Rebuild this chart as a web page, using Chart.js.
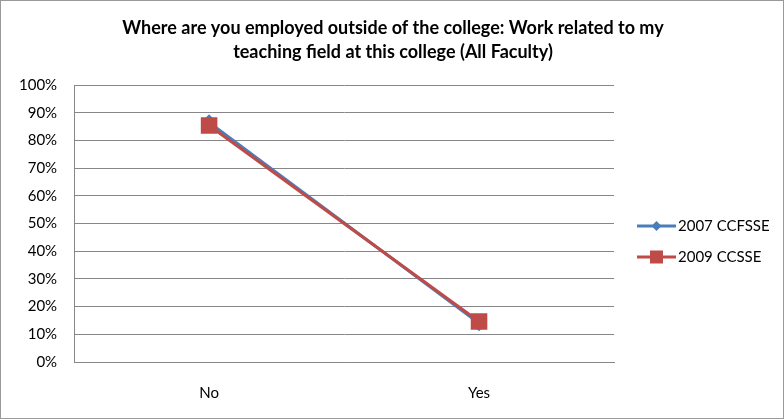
<!DOCTYPE html>
<html>
<head>
<meta charset="utf-8">
<script src="https://cdn.jsdelivr.net/npm/chart.js@4/dist/chart.umd.min.js"></script>
<style>
  body { margin: 0; background: #fff; }
  #wrap { width: 784px; height: 419px; box-sizing: border-box; border: 1px solid #9a9a9a; }
  canvas { display: block; }
</style>
</head>
<body>
<div id="wrap"><canvas id="chart" width="782" height="417"></canvas></div>
<script>
// values
const categories = ['No', 'Yes'];
const seriesNames = ['2007 CCFSSE', '2009 CCSSE'];
const ccfsse2007 = [86.5, 14];
const ccsse2009 = [85.4, 14.6];
const yTicks = [0, 10, 20, 30, 40, 50, 60, 70, 80, 90, 100];
const titleLines = ['Where are you employed outside of the college: Work related to my', 'teaching field at this college (All Faculty)'];

const blue = '#4A7EBB';
const red = '#BE4B48';
const grid = '#878787';
const font = "Lato, 'Open Sans', sans-serif";

// title centred on the whole chart, plus an Excel style legend on the right
const decorations = {
  id: 'decorations',
  afterDraw(chart) {
    const ctx = chart.ctx;
    ctx.save();
    ctx.fillStyle = '#000';
    ctx.textAlign = 'center';
    ctx.textBaseline = 'middle';
    ctx.font = 'bold 18px ' + font;
    titleLines.forEach((t, i) => ctx.fillText(t, chart.width / 2 + 1, 27 + i * 24));
    ctx.restore();

    const x0 = 636, y0 = 225, gap = 31;
    chart.data.datasets.forEach((ds, i) => {
      const y = y0 + i * gap;
      ctx.save();
      ctx.strokeStyle = ds.borderColor;
      ctx.lineWidth = 3;
      ctx.beginPath();
      ctx.moveTo(x0, y);
      ctx.lineTo(x0 + 39, y);
      ctx.stroke();
      ctx.fillStyle = ds.backgroundColor;
      if (ds.pointStyle === 'rectRot') {
        ctx.beginPath();
        ctx.moveTo(x0 + 19.5, y - 5);
        ctx.lineTo(x0 + 24.5, y);
        ctx.lineTo(x0 + 19.5, y + 5);
        ctx.lineTo(x0 + 14.5, y);
        ctx.closePath();
        ctx.fill();
      } else {
        ctx.fillRect(x0 + 13, y - 6.5, 13, 13);
      }
      ctx.fillStyle = '#000';
      ctx.font = '15px ' + font;
      ctx.textBaseline = 'middle';
      ctx.fillText(ds.label, x0 + 41, y);
      ctx.restore();
    });
  }
};

new Chart(document.getElementById('chart'), {
  type: 'line',
  data: {
    labels: categories,
    datasets: [
      {
        label: seriesNames[0],
        data: ccfsse2007,
        borderColor: blue,
        backgroundColor: blue,
        borderWidth: 3,
        pointStyle: 'rectRot',
        pointRadius: 6,
        pointHoverRadius: 6,
        order: 2
      },
      {
        label: seriesNames[1],
        data: ccsse2009,
        borderColor: red,
        backgroundColor: red,
        borderWidth: 3,
        pointStyle: 'rect',
        pointRadius: 9.6,
        pointHoverRadius: 9.6,
        order: 1
      }
    ]
  },
  options: {
    responsive: false,
    animation: false,
    layout: { padding: { left: 1, right: 169, top: 84, bottom: 12 } },
    plugins: {
      legend: { display: false },
      tooltip: { enabled: false },
      title: { display: false }
    },
    scales: {
      x: {
        offset: true,
        afterFit(scale) { scale.height = 44; },
        grid: { display: false, drawTicks: false },
        border: { color: grid, width: 1 },
        ticks: { color: '#000', font: { family: font, size: 15 }, padding: 22 }
      },
      y: {
        min: 0,
        max: 100,
        afterBuildTicks(axis) { axis.ticks = yTicks.map(v => ({ value: v })); },
        grid: { color: grid, lineWidth: 1, drawTicks: false },
        border: { color: grid, width: 1 },
        ticks: {
          color: '#000',
          font: { family: font, size: 15 },
          padding: 17,
          callback: v => v + '%'
        }
      }
    }
  },
  plugins: [decorations]
});
</script>
</body>
</html>
